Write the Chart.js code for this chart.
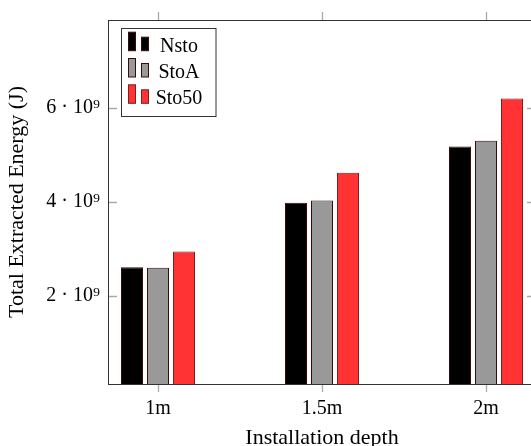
<!DOCTYPE html>
<html>
<head>
<meta charset="utf-8">
<script src="https://cdn.jsdelivr.net/npm/chart.js@4"></script>
<style>
  html, body { margin: 0; padding: 0; background: #fff; overflow: hidden; }
  #wrap { position: relative; width: 540px; height: 446px; }
</style>
</head>
<body>
<div id="wrap"><canvas id="chart"></canvas></div>
<script>
const categories = ['1m', '1.5m', '2m'];
const depths = [1, 1.5, 2];
const nsto = [2.61e9, 3.985e9, 5.18e9];
const stoA = [2.60e9, 4.03e9, 5.30e9];
const sto50 = [2.95e9, 4.62e9, 6.20e9];
const yTicks = [2e9, 4e9, 6e9];

const serif = "'Liberation Serif', 'DejaVu Serif', serif";

const points = (vals) => depths.map((d, i) => ({ x: d, y: vals[i] }));

// box, tick marks and legend drawn the pgfplots way
const axisDecor = {
  id: 'axisDecor',
  afterDraw(chart) {
    const { ctx, chartArea: a, scales } = chart;
    ctx.save();
    ctx.strokeStyle = '#aaa';
    ctx.lineWidth = 1.3;
    ctx.beginPath();
    scales.x.ticks.forEach((t) => {
      const px = Math.round(scales.x.getPixelForValue(t.value)) + 0.5;
      ctx.moveTo(px, a.bottom); ctx.lineTo(px, a.bottom + 8);
      ctx.moveTo(px, a.top); ctx.lineTo(px, a.top - 8);
    });
    scales.y.ticks.forEach((t) => {
      const py = Math.round(scales.y.getPixelForValue(t.value)) + 0.5;
      ctx.moveTo(a.left, py); ctx.lineTo(a.left + 9, py);
      ctx.moveTo(a.right, py); ctx.lineTo(a.right - 9, py);
    });
    ctx.stroke();

    ctx.strokeStyle = '#333';
    ctx.lineWidth = 1;
    ctx.strokeRect(Math.round(a.left) + 0.5, Math.round(a.top) + 0.5, a.right - a.left, a.bottom - a.top);

    // legend
    const lx = 121.5, ly = 28.5;
    ctx.fillStyle = '#fff';
    ctx.fillRect(lx, ly, 94.5, 88);
    ctx.strokeRect(lx, ly, 94.5, 88);
    ctx.font = '20px ' + serif;
    ctx.textAlign = 'center';
    ctx.textBaseline = 'alphabetic';
    chart.data.datasets.forEach((ds, i) => {
      const base = 50.7 + i * 26.3;
      ctx.fillStyle = ds.backgroundColor;
      ctx.strokeStyle = ds.borderColor;
      ctx.fillRect(128.5, base - 18.5, 7, 18.5);
      ctx.strokeRect(128.5, base - 18.5, 7, 18.5);
      ctx.fillRect(141.5, base - 13.5, 7, 13.5);
      ctx.strokeRect(141.5, base - 13.5, 7, 13.5);
      ctx.fillStyle = '#000';
      ctx.fillText(ds.label, 179, base + 1);
    });
    ctx.restore();
  }
};

new Chart(document.getElementById('chart'), {
  type: 'bar',
  data: {
    datasets: [
      { label: 'Nsto', data: points(nsto), backgroundColor: '#000000', borderColor: '#3a0a0a', borderWidth: 1 },
      { label: 'StoA', data: points(stoA), backgroundColor: '#999999', borderColor: '#3a0a0a', borderWidth: 1 },
      { label: 'Sto50', data: points(sto50), backgroundColor: '#ff3333', borderColor: '#7a2020', borderWidth: 1 }
    ]
  },
  options: {
    responsive: true,
    maintainAspectRatio: false,
    animation: false,
    categoryPercentage: 78 / 164,
    barPercentage: 22 / 26,
    layout: { padding: { top: 16, right: 4, left: 0, bottom: 0 } },
    plugins: { legend: { display: false }, tooltip: { enabled: false } },
    scales: {
      x: {
        type: 'linear',
        offset: false,
        min: 1 - 50 / 328,
        max: 2 + 50 / 328,
        grid: { display: false, drawTicks: false, offset: false },
        border: { display: false },
        afterBuildTicks: (scale) => { scale.ticks = depths.map((v) => ({ value: v })); },
        afterFit: (scale) => { scale.height = 62; },
        ticks: {
          padding: 13,
          color: '#000',
          font: { family: serif, size: 20 },
          callback: (v) => categories[depths.indexOf(v)]
        },
        title: {
          display: true,
          text: 'Installation depth',
          color: '#000',
          font: { family: serif, size: 22, lineHeight: 1 },
          padding: { top: 0, bottom: -3 }
        }
      },
      y: {
        min: 0.13e9,
        max: 7.87e9,
        grid: { display: false, drawTicks: false },
        border: { display: false },
        afterBuildTicks: (scale) => { scale.ticks = yTicks.map((v) => ({ value: v })); },
        afterFit: (scale) => { scale.width = 108; },
        ticks: {
          padding: 8,
          color: '#000',
          font: { family: serif, size: 20 },
          callback: (v) => (v / 1e9) + ' \u00b7 10\u2079'
        },
        title: {
          display: true,
          text: 'Total Extracted Energy (J)',
          color: '#000',
          font: { family: serif, size: 22, lineHeight: 1.2 },
          padding: { top: 4, bottom: 0 }
        }
      }
    }
  },
  plugins: [axisDecor]
});
</script>
</body>
</html>
